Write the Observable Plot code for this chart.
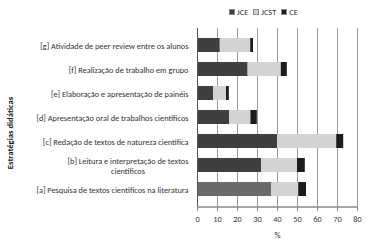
<!DOCTYPE html>
<html><head><meta charset="utf-8">
<script src="https://cdn.jsdelivr.net/npm/d3@7"></script>
<script src="https://cdn.jsdelivr.net/npm/@observablehq/plot@0.6"></script>
<style>
body{margin:0;background:#fff;font-family:Carlito,Lato,"Open Sans",sans-serif;}
#wrap{position:relative;width:369px;height:248px;}
#legend{position:absolute;left:229px;top:7px;display:flex;align-items:center;font-size:8.4px;color:#333;height:10px;}
#legend span.sw{display:inline-block;width:6px;height:6px;margin-right:2px;border:0.5px solid #888;box-sizing:border-box;}
#legend span.it{display:flex;align-items:center;margin-right:5px;}
#ytitle{position:absolute;left:10px;top:133px;transform:translate(-50%,-50%) rotate(-90deg);font-size:8.6px;font-weight:bold;white-space:nowrap;color:#111;}
#chart{position:absolute;left:0;top:24px;}
</style></head>
<body><div id="wrap"><div id="legend"></div><div id="ytitle">Estratégias didáticas</div><div id="chart"></div></div>
<script>
const categories = [
  "[a] Pesquisa de textos científicos na literatura",
  "[b] Leitura e interpretação de textos científicos",
  "[c] Redação de textos de natureza científica",
  "[d] Apresentação oral de trabalhos científicos",
  "[e] Elaboração e apresentação de painéis",
  "[f] Realização de trabalho em grupo",
  "[g] Atividade de peer review entre os alunos"
];
const series = ["JCE", "JCST", "CE"];
const JCE  = [37, 32, 40, 16, 8, 25.3, 11.4];
const JCST = [13.6, 18, 29.6, 10.7, 6.5, 16.6, 15.2];
const CE   = [3.9, 3.9, 3.5, 3.2, 1.4, 3, 1.4];
const xTicks = [0, 10, 20, 30, 40, 50, 60, 70, 80];
const colors = {JCE: "#3f3f3f", JCST: "#d3d3d3", CE: "#1c1c1c"};
const firstJCEColor = "#6a6a6a";

const vals = {JCE, JCST, CE};
const data = [];
categories.forEach((c, i) => series.forEach(s => data.push({cat: c, series: s, value: vals[s][i], idx: i})));

const labelFmt = c => c.startsWith("[b]") ? "[b] Leitura e interpretação de textos\ncientíficos" : c;

const plot = Plot.plot({
  width: 369, height: 224,
  marginLeft: 197, marginRight: 12, marginTop: 4, marginBottom: 41,
  style: {fontFamily: "Carlito, Lato, 'Open Sans', sans-serif", fontSize: "8.3px", color: "#333", background: "transparent"},
  x: {domain: [0, 80], ticks: xTicks, label: null},
  y: {domain: categories.slice().reverse(), padding: 0.41, label: null},
  marks: [
    Plot.gridX(xTicks.slice(1), {stroke: "#9a9a9a", strokeOpacity: 1, strokeWidth: 1}),
    Plot.barX(data, Plot.stackX({y: "cat", x: "value", z: "series", order: series,
      fill: d => (d.series === "JCE" && d.idx === 0) ? firstJCEColor : colors[d.series]})),
    Plot.ruleX([0], {stroke: "#555", strokeWidth: 1}),
    Plot.axisX({ticks: xTicks, tickSize: 4, tickPadding: 5, stroke: "#888", fontSize: 8.3, label: null}),
    Plot.axisY({tickSize: 0, tickPadding: 9, tickFormat: labelFmt, lineHeight: 1.25, fontSize: 8.3, label: null}),
    Plot.text(["%"], {frameAnchor: "bottom", dy: 30, fontSize: 8.5, fill: "#333"})
  ]
});
document.getElementById("chart").appendChild(plot);

// bottom axis line
const svg = d3.select(plot);
const xs = d3.scaleLinear().domain([0, 80]).range([197, 357]);
svg.append("line").attr("x1", xs(0)).attr("x2", xs(80)).attr("y1", 183).attr("y2", 183)
  .attr("stroke", "#888").attr("stroke-width", 1.5);

// center the two-line label
svg.selectAll("text").each(function() {
  if (this.textContent.includes("Leitura")) {
    const tsp = this.querySelectorAll("tspan");
    if (tsp.length) {
      const w = tsp[0].getComputedTextLength();
      this.setAttribute("text-anchor", "middle");
      const t = this.getAttribute("transform") || "";
      this.setAttribute("transform", t + ` translate(${-w / 2},0)`);
    }
  }
});

// legend
const lg = document.getElementById("legend");
series.forEach(s => {
  const it = document.createElement("span"); it.className = "it";
  const sw = document.createElement("span"); sw.className = "sw"; sw.style.background = colors[s];
  it.appendChild(sw); it.appendChild(document.createTextNode(s)); lg.appendChild(it);
});
</script></body></html>
